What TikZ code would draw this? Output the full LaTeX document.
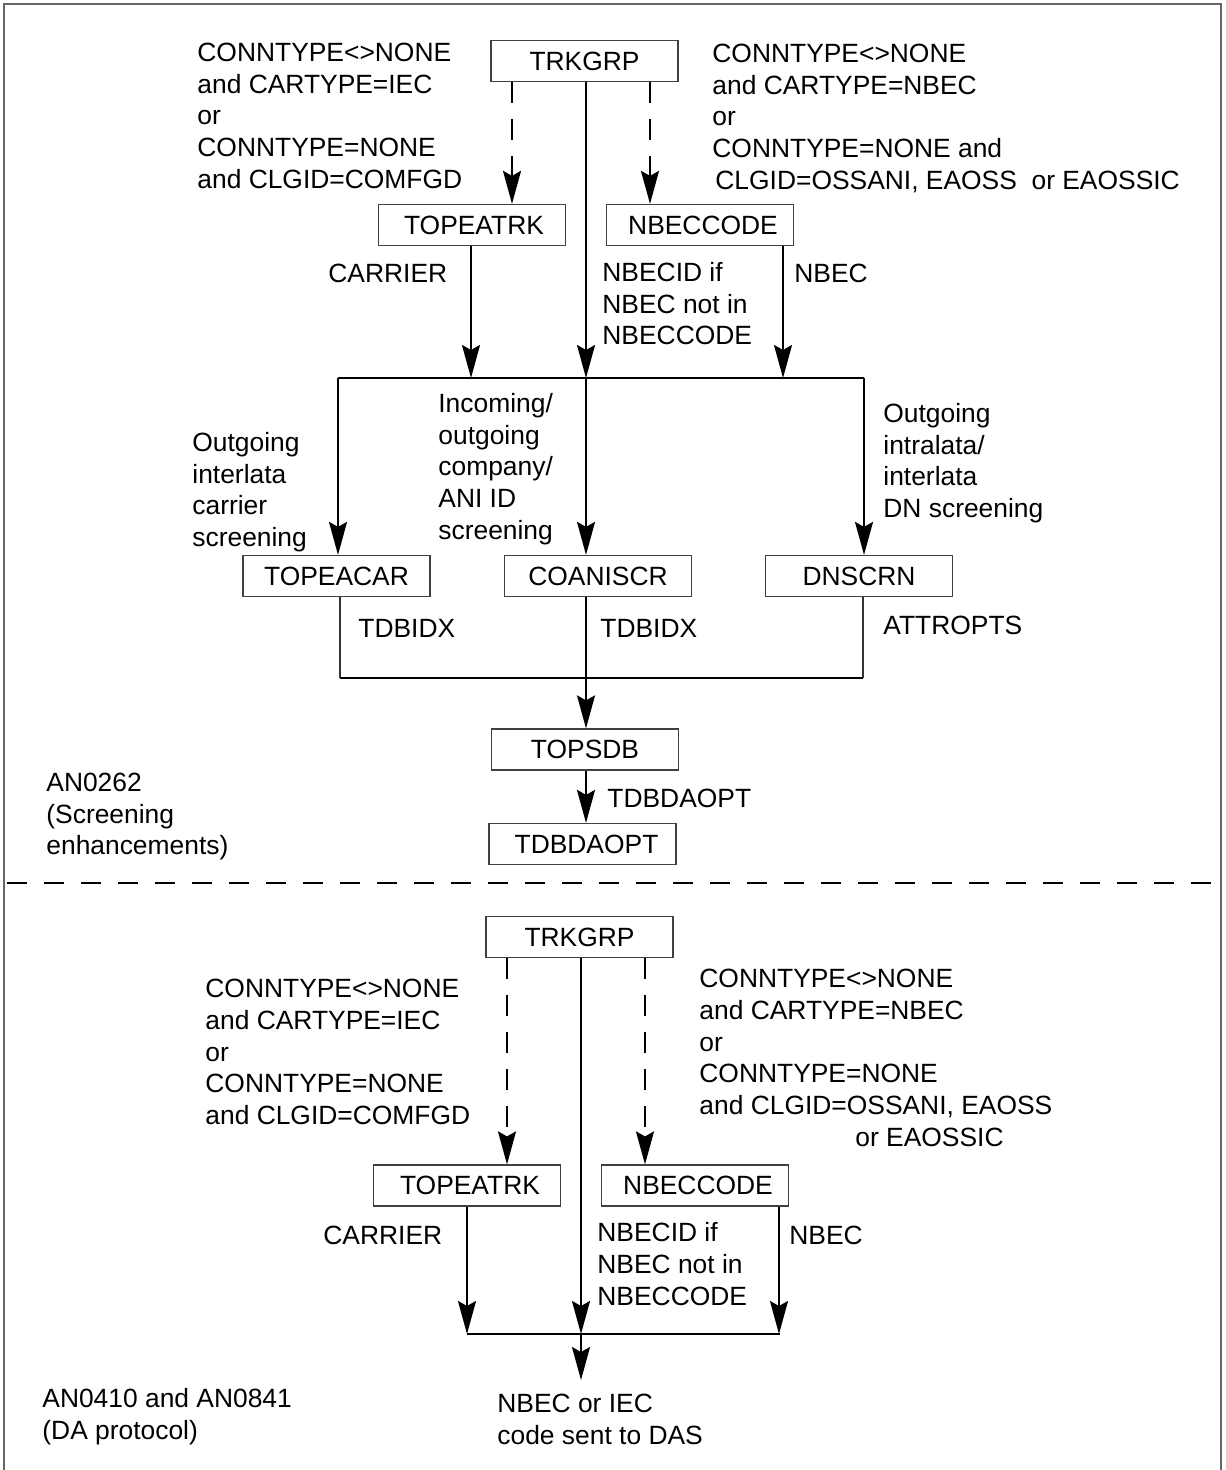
\documentclass[tikz,border=0pt]{standalone}
\usepackage{fontspec}
\setmainfont{Liberation Sans}
\usetikzlibrary{arrows.meta}
\begin{document}
\begin{tikzpicture}[x=0.5pt,y=-0.5pt,
  font=\fontsize{13.2}{15.85}\selectfont,
  box/.style={draw=black!75, line width=0.6pt, minimum width=93.5pt, minimum height=20.5pt, inner sep=0pt},
  lbl/.style={anchor=north west, inner sep=0pt, align=left},
  conn/.style={line width=1pt},
  arr/.style={conn, -{Stealth[length=16.5pt,width=9pt,inset=2.5pt]}},
  darr/.style={arr, dash pattern=on 10.5pt off 8pt},
  thinline/.style={line width=0.55pt, draw=black!80},
  busline/.style={line width=1.1pt},
  frame/.style={draw=black!60, line width=0.8pt},
  sep/.style={line width=0.8pt, dash pattern=on 10pt off 8.5pt}
]
\useasboundingbox (0,0) rectangle (1225,1470);

% frame and separator
\coordinate (fA) at (4,1470);
\coordinate (fB) at (4,4);
\coordinate (fC) at (1221,4);
\coordinate (fD) at (1221,1470);
\draw[frame] (fA) -- (fB) -- (fC) -- (fD);
\coordinate (sepA) at (7,883);
\coordinate (sepB) at (1221,883);
\draw[sep] (sepA) -- (sepB);

% ---------------- upper part ----------------
\node[box] (trk1) at (584.5,61) {TRKGRP};
\node[box] (tea1) at (472,225) {\hspace{2pt}TOPEATRK};
\node[box] (nbc1) at (700,225) {\hspace{3pt}NBECCODE};
\node[box] (tcar) at (336.5,576) {TOPEACAR};
\node[box] (coa) at (598,576) {COANISCR};
\node[box] (dns) at (859,576) {DNSCRN};
\node[box] (tsdb) at (585,749.5) {TOPSDB};
\node[box] (tdba) at (582.5,844) {\hspace{4pt}TDBDAOPT};

\coordinate (xd1) at (512,0);
\coordinate (xd2) at (650,0);
\coordinate (xm) at (586,0);
\coordinate (xc) at (471,0);
\coordinate (xn) at (783,0);
\coordinate (busA) at (338,378);
\coordinate (busB) at (864,378);
\coordinate (lbA) at (340,678);
\coordinate (lbB) at (863,678);

\draw[darr] (trk1.south -| xd1) -- (tea1.north -| xd1);
\draw[darr] (trk1.south -| xd2) -- (nbc1.north -| xd2);
\draw[arr] (trk1.south -| xm) -- (busA -| xm);
\draw[arr] (tea1.south -| xc) -- (busA -| xc);
\draw[arr] (nbc1.south -| xn) -- (busA -| xn);
\draw[busline] (busA) -- (busB);
\draw[arr] (busA) -- (tcar.north -| busA);
\draw[arr] (busA -| xm) -- (coa.north -| xm);
\draw[arr] (busB) -- (dns.north -| busB);
\draw[thinline] (tcar.south -| lbA) -- (lbA);
\draw[thinline] (dns.south -| lbB) -- (lbB);
\draw[busline] (lbA) -- (lbB);
\draw[arr] (coa.south -| xm) -- (tsdb.north -| xm);
\draw[arr] (tsdb.south -| xm) -- (tdba.north -| xm);

\node[lbl] (condL1) at (197,39) {\strut CONNTYPE<>NONE\\and CARTYPE=IEC\\or\\CONNTYPE=NONE\\and CLGID=COMFGD};
\node[lbl] (condR1) at (712,40) {\strut CONNTYPE<>NONE\\and CARTYPE=NBEC\\or\\CONNTYPE=NONE and\\\hspace*{1.5pt}CLGID=OSSANI, EAOSS\ \ or EAOSSIC};
\node[lbl] (carr1) at (328,260) {\strut CARRIER};
\node[lbl] (nbid1) at (602,259) {\strut NBECID if\\NBEC not in\\NBECCODE};
\node[lbl] (nbec1) at (794,260) {\strut NBEC};
\node[lbl] (outl) at (192,429) {\strut Outgoing\\interlata\\carrier\\screening};
\node[lbl] (inc) at (438,390) {\strut Incoming/\\outgoing\\company/\\ANI ID\\screening};
\node[lbl] (outr) at (883,400) {\strut Outgoing\\intralata/\\interlata\\DN screening};
\node[lbl] (tdbx1) at (358,615) {\strut TDBIDX};
\node[lbl] (tdbx2) at (600,615) {\strut TDBIDX};
\node[lbl] (attr) at (883,612) {\strut ATTROPTS};
\node[lbl] (tdbl) at (607,785) {\strut TDBDAOPT};
\node[lbl] (an1) at (46,769) {\strut AN0262\\(Screening\\enhancements)};

% ---------------- lower part ----------------
\node[box] (trk2) at (579.5,937) {TRKGRP};
\node[box] (tea2) at (467,1185.5) {\hspace{3pt}TOPEATRK};
\node[box] (nbc2) at (695,1185.5) {\hspace{3pt}NBECCODE};

\coordinate (xd3) at (507,0);
\coordinate (xd4) at (645,0);
\coordinate (xm2) at (581,0);
\coordinate (xc2) at (467,0);
\coordinate (xn2) at (779,0);
\coordinate (busC) at (467,1334);
\coordinate (busD) at (780,1334);
\coordinate (dasin) at (581,1380);

\draw[darr] (trk2.south -| xd3) -- (tea2.north -| xd3);
\draw[darr] (trk2.south -| xd4) -- (nbc2.north -| xd4);
\draw[arr] (trk2.south -| xm2) -- (busC -| xm2);
\draw[arr] (tea2.south -| xc2) -- (busC -| xc2);
\draw[arr] (nbc2.south -| xn2) -- (busC -| xn2);
\draw[busline] (busC) -- (busD);
\draw[arr] (busC -| xm2) -- (dasin);

\node[lbl] (condL2) at (205,975) {\strut CONNTYPE<>NONE\\and CARTYPE=IEC\\or\\CONNTYPE=NONE\\and CLGID=COMFGD};
\node[lbl] (condR2) at (699,965) {\strut CONNTYPE<>NONE\\and CARTYPE=NBEC\\or\\CONNTYPE=NONE\\and CLGID=OSSANI, EAOSS\\\hspace*{78pt}or EAOSSIC};
\node[lbl] (carr2) at (323,1222) {\strut CARRIER};
\node[lbl] (nbid2) at (597,1219) {\strut NBECID if\\NBEC not in\\NBECCODE};
\node[lbl] (nbec2) at (789,1222) {\strut NBEC};
\node[lbl] (das) at (497,1390) {\strut NBEC or IEC\\code sent to DAS};
\node[lbl] (an2) at (42,1385) {\strut AN0410 and AN0841\\(DA protocol)};
\end{tikzpicture}
\end{document}
